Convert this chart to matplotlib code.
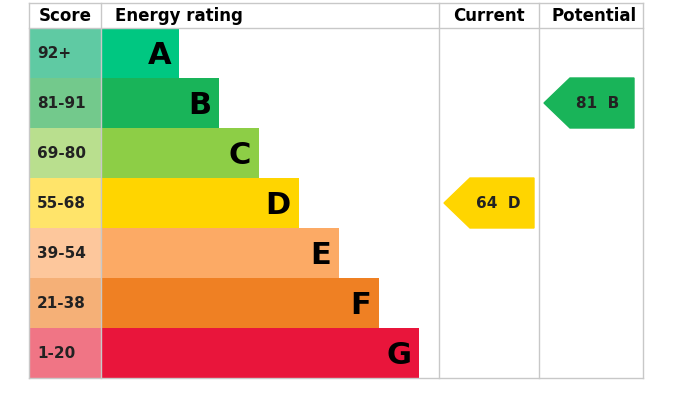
import matplotlib.pyplot as plt
from matplotlib.patches import Polygon

letters = ['A', 'B', 'C', 'D', 'E', 'F', 'G']
score_ranges = ['92+', '81-91', '69-80', '55-68', '39-54', '21-38', '1-20']
bar_colors = ['#00c781', '#19b459', '#8dce46', '#ffd500', '#fcaa65', '#ef8023', '#e9153b']
score_colors = ['#5fcaa3', '#73c98c', '#b9df8e', '#ffe46a', '#fdc79c', '#f5b077', '#f07585']
bar_lengths = [78, 118, 158, 198, 238, 278, 318]
current_score, current_letter = 64, 'D'
potential_score, potential_letter = 81, 'B'

fig = plt.figure(figsize=(6.78, 4.05), dpi=100)
ax = fig.add_axes([0, 0, 1, 1])
ax.set_xlim(0, 678)
ax.set_ylim(405, 0)
ax.axis('off')

top, row_h = 28, 50
centers = [top + row_h * (i + 0.5) for i in range(len(letters))]
bottom = top + row_h * len(letters)

ax.barh(centers, [72] * 7, left=29, height=row_h, color=score_colors)
ax.barh(centers, bar_lengths, left=101, height=row_h, color=bar_colors)

for y, s, L, w in zip(centers, score_ranges, letters, bar_lengths):
    ax.text(37, y, s, ha='left', va='center', fontsize=11, fontweight='bold', color='#222')
    ax.text(101 + w - 8, y + 2, L, ha='right', va='center', fontsize=22, fontweight='bold', color='black')

# grid lines
gc = '#c8c8c8'
for x in [29, 101, 439, 539, 643]:
    ax.plot([x, x], [3, bottom], color=gc, lw=1)
ax.plot([29, 643], [3, 3], color=gc, lw=1)
ax.plot([29, 643], [top, top], color=gc, lw=1)
ax.plot([29, 643], [bottom, bottom], color=gc, lw=1)

ax.text(65, 16, 'Score', ha='center', va='center', fontsize=12, fontweight='bold')
ax.text(115, 16, 'Energy rating', ha='left', va='center', fontsize=12, fontweight='bold')
ax.text(489, 16, 'Current', ha='center', va='center', fontsize=12, fontweight='bold')
ax.text(594, 16, 'Potential', ha='center', va='center', fontsize=12, fontweight='bold')


def arrow(x0, letter, score):
    i = letters.index(letter)
    y0, y1 = top + row_h * i, top + row_h * (i + 1)
    ym = (y0 + y1) / 2
    pts = [(x0, ym), (x0 + 26, y0), (x0 + 90, y0), (x0 + 90, y1), (x0 + 26, y1)]
    ax.add_patch(Polygon(pts, closed=True, color=bar_colors[i]))
    ax.text(x0 + 54, ym + 1, f'{score}  {letter}', ha='center', va='center',
            fontsize=11, fontweight='bold', color='#222')


arrow(444, current_letter, current_score)
arrow(544, potential_letter, potential_score)

fig.savefig('out.png', dpi=100)
